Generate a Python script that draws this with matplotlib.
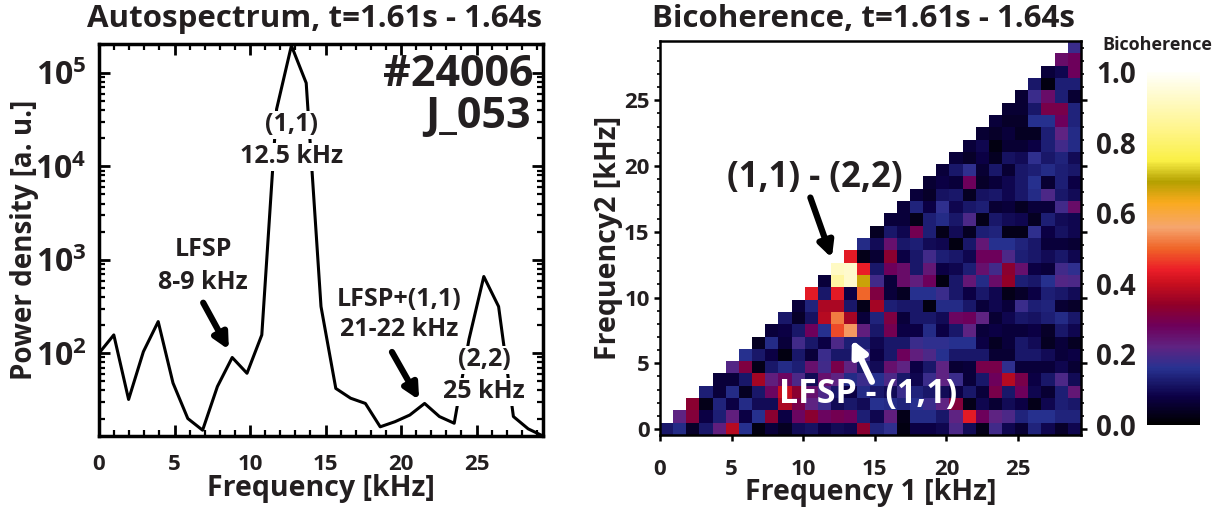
import numpy as np
import matplotlib
matplotlib.use('Agg')
import matplotlib.pyplot as plt
from matplotlib.colors import LinearSegmentedColormap
from matplotlib.ticker import FixedLocator, LogLocator, NullFormatter, FuncFormatter, MultipleLocator

plt.rcParams['font.family'] = ['Open Sans', 'DejaVu Sans']
plt.rcParams['font.weight'] = 'bold'
plt.rcParams['axes.labelweight'] = 'bold'
plt.rcParams['mathtext.fontset'] = 'custom'
plt.rcParams['mathtext.rm'] = 'Open Sans:bold'
plt.rcParams['mathtext.bf'] = 'Open Sans:bold'
plt.rcParams['mathtext.default'] = 'rm'

TXT = '#231f20'

# autospectrum, shot #24006, t=1.61s - 1.64s
freq_khz = [0.0, 0.98, 1.96, 2.94, 3.92, 4.9, 5.88, 6.86, 7.84, 8.82, 9.8,
            10.78, 11.76, 12.74, 13.72, 14.7, 15.68, 16.66, 17.64, 18.62, 19.6,
            20.58, 21.56, 22.54, 23.52, 24.5, 25.48, 26.46, 27.44, 28.42, 29.4]
power = [100, 157, 32, 104, 218, 48, 20, 15, 44, 90, 61,
         157, 4.1e4, 1.96e5, 7.8e4, 316, 42, 33, 29, 16.3, 18.5,
         21.8, 29, 21, 17.8, 141, 662, 316, 21, 15.5, 13]

# bicoherence, row j = frequency2 bin, values for frequency1 bins j..31
bicoherence_rows = [
    [0.12, 0.15, 0.05, 0.12, 0.23, 0.38, 0.16, 0.02, 0.07, 0.04, 0.10, 0.11, 0.08, 0.10, 0.09, 0.33,
     0.14, 0.17, 0.02, 0.08, 0.08, 0.09, 0.20, 0.10, 0.03, 0.19, 0.09, 0.06, 0.14, 0.09, 0.05, 0.09],
    [0.22, 0.32, 0.08, 0.13, 0.23, 0.08, 0.16, 0.33, 0.08, 0.27, 0.33, 0.27, 0.29, 0.28, 0.13, 0.09,
     0.23, 0.03, 0.15, 0.15, 0.12, 0.22, 0.43, 0.28, 0.22, 0.20, 0.14, 0.16, 0.16, 0.14, 0.14],
    [0.33, 0.03, 0.14, 0.08, 0.15, 0.10, 0.10, 0.37, 0.30, 0.22, 0.18, 0.10, 0.12, 0.10, 0.16, 0.15,
     0.14, 0.16, 0.18, 0.22, 0.32, 0.03, 0.09, 0.06, 0.10, 0.08, 0.03, 0.09, 0.13, 0.12],
    [0.13, 0.07, 0.15, 0.04, 0.12, 0.27, 0.40, 0.33, 0.25, 0.20, 0.12, 0.08, 0.15, 0.12, 0.10, 0.18,
     0.14, 0.12, 0.10, 0.08, 0.12, 0.07, 0.30, 0.12, 0.28, 0.09, 0.06, 0.13, 0.24],
    [0.07, 0.07, 0.12, 0.36, 0.23, 0.27, 0.20, 0.10, 0.25, 0.22, 0.15, 0.18, 0.16, 0.20, 0.12, 0.09,
     0.18, 0.22, 0.18, 0.07, 0.12, 0.28, 0.38, 0.30, 0.08, 0.12, 0.20, 0.10],
    [0.21, 0.31, 0.03, 0.12, 0.15, 0.13, 0.25, 0.19, 0.30, 0.22, 0.12, 0.10, 0.25, 0.22, 0.08, 0.12,
     0.22, 0.06, 0.07, 0.30, 0.30, 0.17, 0.07, 0.07, 0.07, 0.09, 0.06],
    [0.16, 0.12, 0.08, 0.02, 0.12, 0.07, 0.18, 0.12, 0.12, 0.18, 0.08, 0.12, 0.28, 0.23, 0.20, 0.16,
     0.12, 0.12, 0.12, 0.06, 0.06, 0.12, 0.12, 0.10, 0.07, 0.08],
    [0.04, 0.15, 0.07, 0.19, 0.12, 0.08, 0.20, 0.13, 0.13, 0.09, 0.12, 0.12, 0.18, 0.17, 0.17, 0.16,
     0.16, 0.08, 0.04, 0.07, 0.12, 0.10, 0.04, 0.07, 0.04],
    [0.07, 0.08, 0.12, 0.28, 0.16, 0.48, 0.55, 0.23, 0.12, 0.29, 0.08, 0.08, 0.15, 0.08, 0.12, 0.22,
     0.07, 0.08, 0.07, 0.07, 0.08, 0.05, 0.12, 0.09],
    [0.12, 0.05, 0.11, 0.38, 0.52, 0.36, 0.07, 0.14, 0.31, 0.07, 0.12, 0.12, 0.10, 0.27, 0.28, 0.22,
     0.06, 0.09, 0.12, 0.11, 0.13, 0.15, 0.12],
    [0.07, 0.14, 0.37, 0.37, 0.12, 0.03, 0.36, 0.13, 0.12, 0.12, 0.02, 0.15, 0.15, 0.12, 0.07, 0.09,
     0.07, 0.18, 0.13, 0.14, 0.06, 0.05],
    [0.43, 0.12, 0.43, 0.08, 0.50, 0.31, 0.07, 0.04, 0.16, 0.16, 0.18, 0.12, 0.08, 0.12, 0.09, 0.03,
     0.05, 0.08, 0.13, 0.12, 0.10],
    [0.07, 0.87, 0.93, 0.67, 0.19, 0.07, 0.26, 0.23, 0.28, 0.02, 0.12, 0.24, 0.15, 0.26, 0.34, 0.13,
     0.12, 0.16, 0.21, 0.20],
    [0.92, 0.93, 0.44, 0.12, 0.28, 0.26, 0.12, 0.24, 0.08, 0.09, 0.13, 0.25, 0.19, 0.33, 0.25, 0.08,
     0.07, 0.19, 0.17],
    [0.43, 0.03, 0.06, 0.33, 0.08, 0.12, 0.19, 0.13, 0.12, 0.09, 0.28, 0.28, 0.20, 0.13, 0.12, 0.10,
     0.12, 0.09],
    [0.15, 0.10, 0.25, 0.12, 0.13, 0.10, 0.09, 0.02, 0.12, 0.24, 0.16, 0.16, 0.14, 0.12, 0.07, 0.07, 0.06],
    [0.04, 0.12, 0.09, 0.29, 0.13, 0.03, 0.10, 0.04, 0.13, 0.14, 0.03, 0.03, 0.17, 0.08, 0.11, 0.09],
    [0.07, 0.07, 0.03, 0.13, 0.15, 0.12, 0.20, 0.03, 0.12, 0.10, 0.09, 0.04, 0.13, 0.10, 0.09],
    [0.07, 0.14, 0.08, 0.17, 0.09, 0.12, 0.13, 0.06, 0.07, 0.04, 0.07, 0.07, 0.19, 0.26],
    [0.07, 0.05, 0.11, 0.12, 0.04, 0.11, 0.12, 0.09, 0.12, 0.15, 0.20, 0.12, 0.10],
    [0.06, 0.08, 0.07, 0.28, 0.05, 0.07, 0.09, 0.12, 0.16, 0.06, 0.13, 0.08],
    [0.07, 0.12, 0.17, 0.06, 0.12, 0.06, 0.12, 0.13, 0.15, 0.13, 0.12],
    [0.07, 0.05, 0.08, 0.04, 0.11, 0.10, 0.17, 0.12, 0.14, 0.10],
    [0.07, 0.09, 0.02, 0.06, 0.06, 0.08, 0.13, 0.19, 0.15],
    [0.06, 0.05, 0.07, 0.04, 0.04, 0.13, 0.22, 0.15],
    [0.07, 0.05, 0.05, 0.16, 0.16, 0.28, 0.14],
    [0.06, 0.06, 0.12, 0.30, 0.30, 0.14],
    [0.06, 0.18, 0.26, 0.13, 0.06],
    [0.12, 0.02, 0.13, 0.13],
    [0.07, 0.09, 0.28],
    [0.26, 0.28],
    [0.18],
]
f1_range = (0.0, 29.4)
f2_range = (-0.45, 29.5)

# IDL-like colour table
cmap_stops = [
    (0.00, (0, 0, 0)), (0.08, (12, 0, 70)), (0.16, (40, 50, 145)), (0.22, (95, 35, 130)),
    (0.28, (110, 0, 90)), (0.34, (145, 0, 40)), (0.40, (200, 15, 30)), (0.44, (235, 30, 40)),
    (0.50, (240, 100, 40)), (0.56, (245, 165, 110)), (0.63, (250, 170, 30)), (0.69, (180, 160, 0)),
    (0.75, (250, 240, 70)), (0.84, (255, 245, 140)), (1.00, (255, 255, 250)),
]
cmap = LinearSegmentedColormap.from_list(
    'bic', [(v, tuple(c / 255 for c in rgb)) for v, rgb in cmap_stops])
cmap.set_bad('white')

n = len(bicoherence_rows)
grid = np.full((n, n), np.nan)
for j, row in enumerate(bicoherence_rows):
    grid[j, j:] = row

fig = plt.figure(figsize=(12.26, 5.08), dpi=100)
W, H = 1226, 508


def box(l, t, r, b):
    return [l / W, 1 - b / H, (r - l) / W, (b - t) / H]


# ---- left: autospectrum ----
ax = fig.add_axes(box(99, 44, 543, 436))
ax.plot(freq_khz, power, color='black', lw=2.2, zorder=2)
ax.set_yscale('log')
ax.set_xlim(0, 29.4)
ax.set_ylim(13, 2.04e5)
ax.xaxis.set_major_locator(MultipleLocator(5))
ax.xaxis.set_minor_locator(MultipleLocator(1))
ax.yaxis.set_major_locator(FixedLocator([1e2, 1e3, 1e4, 1e5]))
ax.yaxis.set_major_formatter(FuncFormatter(lambda v, p: r'$10^{%d}$' % round(np.log10(v))))
ax.yaxis.set_minor_locator(LogLocator(subs=np.arange(2, 10)))
ax.yaxis.set_minor_formatter(NullFormatter())
ax.tick_params(which='both', direction='in', top=True, right=True, colors='black')
ax.tick_params(which='major', length=8, width=2)
ax.tick_params(which='minor', length=4, width=1.6)
ax.tick_params(axis='x', labelsize=16, labelcolor=TXT, pad=13)
ax.tick_params(axis='y', labelsize=23, labelcolor=TXT, pad=9)
for s in ax.spines.values():
    s.set_linewidth(2.5)
ax.set_xlabel('Frequency [kHz]', fontsize=20.5, color=TXT, labelpad=-1)
ax.set_ylabel('Power density [a. u.]', fontsize=20, color=TXT, labelpad=-3)

wb = dict(facecolor='white', edgecolor='none', pad=1)
kw = dict(ha='center', va='center', fontsize=18, color=TXT, fontweight='bold')
ax.text(12.76, 2.8e4, '(1,1)', bbox=wb, **kw)
ax.text(12.76, 1.27e4, '12.5 kHz', bbox=wb, **kw)
ax.text(6.9, 1276, 'LFSP', **kw)
ax.text(6.9, 566, '8-9 kHz', **kw)
ax.text(19.9, 373, 'LFSP+(1,1)', **kw)
ax.text(19.9, 178, '21-22 kHz', **kw)
ax.text(25.5, 85, '(2,2)', bbox=wb, **kw)
ax.text(25.5, 38.5, '25 kHz', bbox=wb, **kw)
ax.text(28.8, 9.6e4, '#24006', ha='right', va='center', fontsize=31, color=TXT, fontweight='bold')
ax.text(28.6, 3.4e4, 'J_053', ha='right', va='center', fontsize=31, color=TXT, fontweight='bold')
arr = dict(arrowstyle='-|>,head_length=0.9,head_width=0.45', color='black', lw=4.5, shrinkA=0, shrinkB=0)
ax.annotate('', xy=(8.6, 109), xytext=(6.9, 347), arrowprops=arr)
ax.annotate('', xy=(21.2, 31.6), xytext=(19.4, 103), arrowprops=arr)

fig.text(315 / W, 1 - 19 / H, 'Autospectrum, t=1.61s - 1.64s', ha='center', va='center',
         fontsize=22.5, color=TXT, fontweight='bold')

# ---- right: bicoherence ----
ax2 = fig.add_axes(box(660, 41, 1081, 435))
im = ax2.imshow(grid, origin='lower', cmap=cmap, vmin=0, vmax=1, aspect='auto',
                interpolation='nearest', extent=[*f1_range, *f2_range])
ax2.set_xlim(*f1_range)
ax2.set_ylim(*f2_range)
ax2.xaxis.set_major_locator(MultipleLocator(5))
ax2.yaxis.set_major_locator(MultipleLocator(5))
ax2.yaxis.set_minor_locator(MultipleLocator(1))
ax2.tick_params(which='both', direction='out', right=True, colors='black')
ax2.tick_params(which='major', length=4, width=1.8, labelsize=16, labelcolor=TXT)
ax2.tick_params(which='minor', length=2, width=1.2)
ax2.tick_params(axis='x', pad=13)
for s in ax2.spines.values():
    s.set_linewidth(1.8)
ax2.set_xlabel('Frequency 1 [kHz]', fontsize=20.5, color=TXT, labelpad=-1)
ax2.set_ylabel('Frequency2 [kHz]', fontsize=20.5, color=TXT, labelpad=0.5)

ax2.text(10.8, 19.1, '(1,1) - (2,2)', ha='center', va='center', fontsize=25, color=TXT,
         fontweight='bold')
ax2.annotate('', xy=(12.0, 13.0), xytext=(10.5, 17.6), arrowprops=arr)
ax2.text(14.5, 2.7, 'LFSP - (1,1)', ha='center', va='center', fontsize=24.5, color='white',
         fontweight='bold')
warr = dict(arr, color='white')
ax2.annotate('', xy=(13.4, 6.8), xytext=(14.8, 3.6), arrowprops=warr)

fig.text(864 / W, 1 - 19 / H, 'Bicoherence, t=1.61s - 1.64s', ha='center', va='center',
         fontsize=22.5, color=TXT, fontweight='bold')

# ---- colour bar ----
cax = fig.add_axes(box(1147, 72, 1200, 425))
cb = fig.colorbar(im, cax=cax)
cb.outline.set_visible(False)
cb.set_ticks([0, 0.2, 0.4, 0.6, 0.8, 1.0])
cb.set_ticklabels(['0.0', '0.2', '0.4', '0.6', '0.8', '1.0'])
cax.yaxis.set_ticks_position('left')
cax.tick_params(length=0, labelsize=20, labelcolor=TXT, pad=8)
fig.text(1157 / W, 1 - 45 / H, 'Bicoherence', ha='center', va='center', fontsize=13,
         color=TXT, fontweight='bold')

fig.savefig('out.png', dpi=100)
